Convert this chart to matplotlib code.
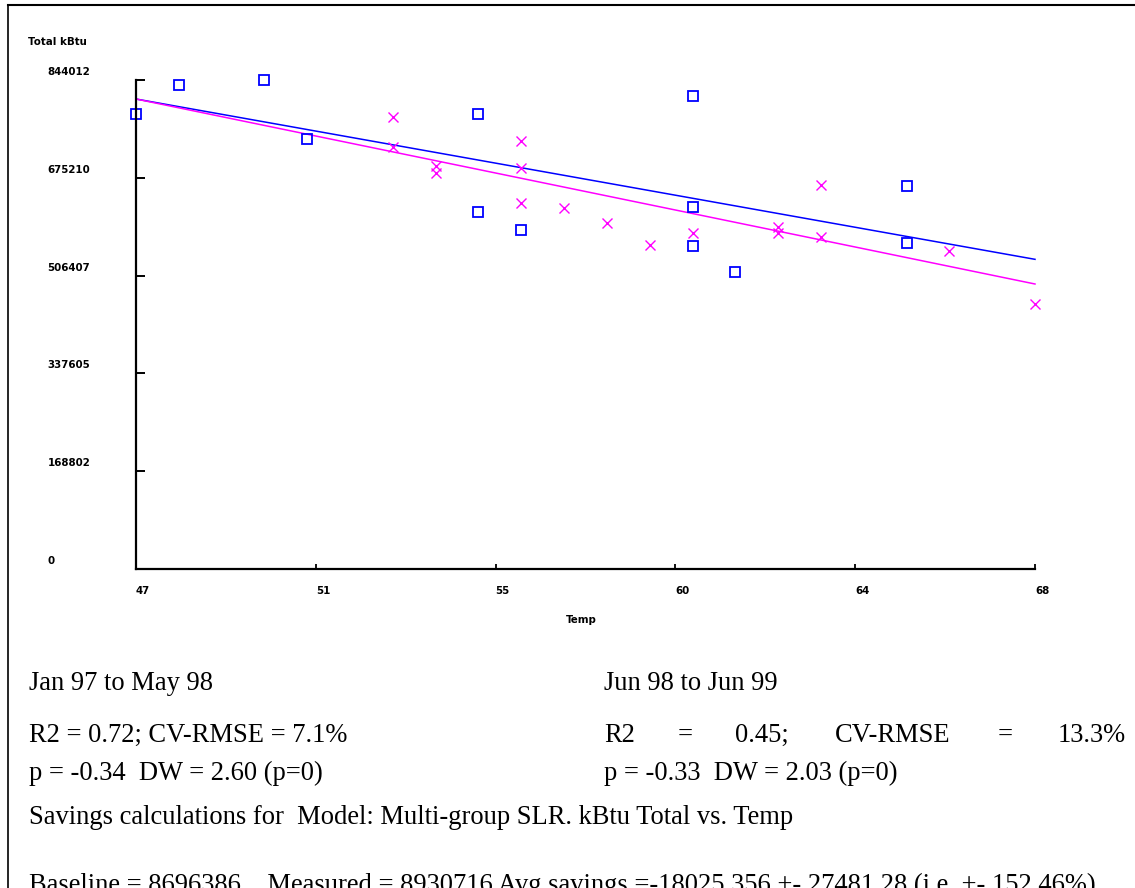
import matplotlib.pyplot as plt
from matplotlib.lines import Line2D

# Jan 97 to May 98 group (blue squares)
temps_a = [47, 48, 50, 51, 55, 55, 56, 60, 60, 60, 61, 65, 65]
kbtu_a = [784800, 835400, 844000, 742200, 784800, 615700, 585100,
          816400, 625300, 558000, 513100, 661600, 562200]

# Jun 98 to Jun 99 group (magenta crosses)
temps_b = [53, 53, 54, 54, 56, 56, 56, 57, 58, 59, 60, 62, 62, 63, 63, 66, 68]
kbtu_b = [779600, 727900, 695600, 683000, 738200, 691600, 631200, 623600,
          597700, 559200, 579400, 590800, 580500, 662800, 573600, 549400, 456900]

# regression lines (end points)
fit_temps = [47, 68]
fit_a = [811200, 534500]
fit_b = [811200, 491900]

xtick_vals = [47, 51.2, 55.4, 59.6, 63.8, 68]
xtick_labels = ["47", "51", "55", "60", "64", "68"]
ytick_vals = [0, 168802, 337605, 506407, 675210, 844012]
ytick_labels = ["0", "168802", "337605", "506407", "675210", "844012"]

left_text = ["Jan 97 to May 98",
             "R2 = 0.72; CV-RMSE = 7.1%",
             "p = -0.34  DW = 2.60 (p=0)"]
right_title = "Jun 98 to Jun 99"
right_words = ["R2", "=", "0.45;", "CV-RMSE", "=", "13.3%"]
right_p = "p = -0.33  DW = 2.03 (p=0)"
savings_text = "Savings calculations for  Model: Multi-group SLR. kBtu Total vs. Temp"
baseline_text = ("Baseline = 8696386    Measured = 8930716 Avg savings =-18025.356 "
                 "+- 27481.28 (i.e. +- 152.46%)")

W, H = 1135, 888
BLUE = "#0000ff"
MAGENTA = "#ff00ff"
bold = dict(family="DejaVu Sans", weight="bold", size=7.4)
serif = dict(family="Liberation Serif", size=19.1)


def fx(px):
    return px / W


def fy(py):
    return 1 - py / H


fig = plt.figure(figsize=(W / 100, H / 100), dpi=100)
ax = fig.add_axes([fx(136), fy(569), 899 / W, 489 / H])

ax.plot(fit_temps, fit_a, color=BLUE, lw=1.1, clip_on=False)
ax.plot(fit_temps, fit_b, color=MAGENTA, lw=1.1, clip_on=False)
ax.plot(temps_a, kbtu_a, "s", ms=6.5, mfc="none", mec=BLUE, mew=1.3, clip_on=False)
ax.plot(temps_b, kbtu_b, "x", ms=7, mec=MAGENTA, mew=1.0, clip_on=False)

ax.set_xlim(47, 68)
ax.set_ylim(0, 844012)

for s in ["top", "right"]:
    ax.spines[s].set_visible(False)
for s in ["left", "bottom"]:
    ax.spines[s].set_linewidth(1.6)
    ax.spines[s].set_color("black")

ax.set_xticks(xtick_vals, xtick_labels)
for lbl in ax.get_xticklabels():
    lbl.set_horizontalalignment("left")
    lbl.set_fontproperties(bold)
ax.tick_params(axis="x", direction="in", length=3.6, width=1.3, pad=12)

ax.set_yticks(ytick_vals, [""] * len(ytick_vals))
ax.tick_params(axis="y", direction="in", length=6.5, width=1.4)
for v, lab in zip(ytick_vals, ytick_labels):
    ax.annotate(lab, xy=(0, v), xycoords=("axes fraction", "data"),
                xytext=(-88.5, 8), textcoords="offset pixels",
                ha="left", va="center", **bold)

ax.set_xlabel("Temp", **bold)
ax.xaxis.set_label_coords((581 - 136) / 899, (569 - 620) / 489)
ax.xaxis.label.set_verticalalignment("center")
fig.text(fx(28), fy(42), "Total kBtu", ha="left", va="center", **bold)

# document frame
fig.add_artist(Line2D([fx(8), fx(8)], [fy(5), fy(H + 5)], color="black", lw=1.2))
fig.add_artist(Line2D([fx(8), fx(W + 5)], [fy(5), fy(5)], color="black", lw=1.5))

# statistics text below chart
for txt, base in zip(left_text, [690, 742, 780]):
    fig.text(fx(29), fy(base), txt, ha="left", va="baseline", **serif)
fig.text(fx(604.5), fy(690), right_title, ha="left", va="baseline", **serif)
for word, x in zip(right_words, [604.5, 678, 735.3, 835.2, 998, 1057.8]):
    fig.text(fx(x), fy(742), word, ha="left", va="baseline", **serif)
fig.text(fx(604.5), fy(780), right_p, ha="left", va="baseline", **serif)
fig.text(fx(29), fy(824), savings_text, ha="left", va="baseline", **serif)
# last line is cut by the bottom edge, as in the source page
fig.text(fx(29), fy(892), baseline_text, ha="left", va="baseline", **serif)

fig.savefig("out.png", dpi=100)
